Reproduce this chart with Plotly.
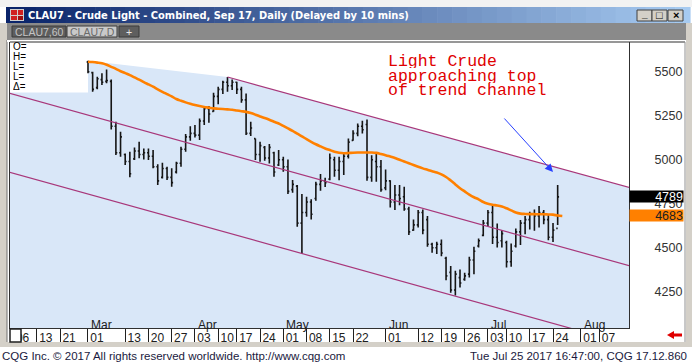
import plotly.graph_objects as go
import pandas as pd

# ---------------- data ----------------
HOLIDAYS = ["2017-02-20", "2017-04-14", "2017-05-29", "2017-07-04"]
SESSION_DATES = [d.strftime("%Y-%m-%d") for d in pd.bdate_range("2017-03-01", "2017-07-26")
                 if d.strftime("%Y-%m-%d") not in HOLIDAYS]
BAR_DATES = SESSION_DATES[:102]

OPEN = [5555, 5495, 5410, 5455, 5445, 5445, 5190, 5040, 5030, 4990,
        5005, 5050, 5030, 5040, 5020, 4960, 4900, 4950, 4900, 4930,
        4980, 5060, 5130, 5150, 5140, 5220, 5290, 5275, 5360, 5400,
        5440, 5420, 5440, 5400, 5340, 5150, 5120, 5030, 5070, 5010,
        5040, 4970, 5000, 4960, 4830, 4850, 4640, 4700, 4760, 4780,
        4860, 4880, 4890, 5000, 4940, 4990, 5020, 5110, 5150, 5190,
        5200, 4900, 4990, 4960, 4840, 4880, 4760, 4800, 4790, 4720,
        4600, 4630, 4700, 4660, 4520, 4500, 4520, 4440, 4360, 4260,
        4330, 4320, 4350, 4430, 4510, 4570, 4640, 4700, 4560, 4540,
        4530, 4420, 4510, 4590, 4640, 4660, 4690, 4680, 4700, 4660,
        4560, 4610]
HIGH = [5563, 5500, 5472, 5491, 5513, 5456, 5216, 5159, 5036, 5045,
        5070, 5102, 5064, 5064, 5055, 4975, 4983, 4960, 4951, 4989,
        5074, 5146, 5191, 5197, 5235, 5301, 5305, 5381, 5415, 5449,
        5470, 5456, 5443, 5415, 5377, 5216, 5121, 5102, 5078, 5089,
        5045, 5055, 5017, 5002, 4885, 4856, 4805, 4790, 4775, 4875,
        4919, 4897, 5036, 5017, 5017, 5036, 5121, 5168, 5206, 5221,
        5229, 5026, 5036, 4998, 4945, 4884, 4856, 4856, 4846, 4733,
        4661, 4714, 4718, 4680, 4528, 4534, 4547, 4449, 4396, 4369,
        4377, 4358, 4449, 4505, 4553, 4657, 4714, 4742, 4638, 4600,
        4540, 4524, 4610, 4657, 4680, 4704, 4718, 4737, 4714, 4685,
        4640, 4856]
LOW = [5491, 5386, 5400, 5424, 5434, 5172, 5027, 5017, 4970, 4900,
       4998, 5008, 5002, 4998, 4951, 4856, 4894, 4885, 4847, 4922,
       4960, 5045, 5108, 5127, 5112, 5197, 5210, 5273, 5316, 5373,
       5386, 5396, 5373, 5324, 5140, 5135, 4998, 4989, 4994, 4979,
       4903, 4964, 4932, 4805, 4813, 4619, 4464, 4676, 4661, 4767,
       4824, 4845, 4884, 4903, 4884, 4913, 5007, 5108, 5134, 5149,
       4880, 4875, 4875, 4818, 4827, 4729, 4714, 4742, 4710, 4572,
       4596, 4615, 4577, 4505, 4471, 4464, 4452, 4316, 4244, 4229,
       4274, 4312, 4331, 4350, 4502, 4566, 4623, 4521, 4502, 4502,
       4388, 4392, 4502, 4515, 4577, 4604, 4596, 4615, 4634, 4543,
       4532, 4629]
CLOSE = [5500, 5400, 5460, 5440, 5450, 5190, 5040, 5130, 4990, 4920,
         5050, 5030, 5040, 5020, 4960, 4880, 4950, 4900, 4870, 4980,
         5060, 5130, 5150, 5140, 5220, 5290, 5260, 5360, 5400, 5440,
         5420, 5440, 5400, 5340, 5150, 5180, 5030, 5080, 5010, 5070,
         4930, 5000, 4960, 4820, 4860, 4640, 4700, 4760, 4690, 4860,
         4880, 4870, 5010, 4940, 4990, 5020, 5100, 5150, 5190, 5170,
         4900, 5000, 4960, 4830, 4880, 4760, 4800, 4780, 4720, 4590,
         4630, 4700, 4600, 4520, 4500, 4520, 4470, 4340, 4260, 4350,
         4300, 4340, 4430, 4480, 4540, 4640, 4700, 4560, 4530, 4580,
         4420, 4480, 4590, 4640, 4660, 4690, 4680, 4700, 4660, 4560,
         4600, 4789]

MA = [5557, 5555, 5552, 5548, 5540, 5528, 5516, 5503, 5492, 5481,
      5468, 5455, 5441, 5428, 5415, 5400, 5386, 5373, 5360, 5345,
      5335, 5326, 5318, 5311, 5305, 5300, 5296, 5292, 5290, 5288,
      5286, 5284, 5280, 5276, 5272, 5265, 5256, 5246, 5237, 5227,
      5216, 5206, 5192, 5178, 5164, 5148, 5133, 5117, 5102, 5088,
      5076, 5064, 5055, 5046, 5040, 5037, 5038, 5040, 5041, 5041,
      5041, 5041, 5039, 5033, 5026, 5018, 5010, 5000, 4990, 4980,
      4970, 4960, 4951, 4943, 4935, 4928, 4917, 4902, 4882, 4860,
      4838, 4820, 4802, 4787, 4775, 4760, 4750, 4744, 4740, 4734,
      4724, 4712, 4700, 4694, 4692, 4691, 4691, 4690, 4690, 4689,
      4688, 4683, 4680]
MA_LAST = 4683
LAST_PRICE = 4789

# trend channel (anchor dates / prices)
TOP_DATES = ["2017-04-12", "2017-08-31"]
TOP_PRICES = [5470, 4729]
MID_DATES = ["2017-02-01", "2017-08-31"]
MID_PRICES = [5393, 4283]
BOT_DATES = ["2017-02-01", "2017-08-31"]
BOT_PRICES = [4945, 3835]

Y_TICKS = [4250, 4500, 4750, 5000, 5250, 5500]
TICK_DATES = ["2017-02-06", "2017-02-13", "2017-02-21", "2017-03-01", "2017-03-13", "2017-03-20",
              "2017-03-27", "2017-04-03", "2017-04-10", "2017-04-17", "2017-04-24", "2017-05-01",
              "2017-05-08", "2017-05-15", "2017-05-22", "2017-06-01", "2017-06-12", "2017-06-19",
              "2017-06-26", "2017-07-03", "2017-07-10", "2017-07-17", "2017-07-24", "2017-08-01",
              "2017-08-07"]
TICK_LABELS = ["06", "13", "21", "01", "13", "20", "27", "03", "10", "17", "24", "01", "08", "15",
               "22", "01", "12", "19", "26", "03", "10", "17", "24", "01", "07"]
MONTH_LABELS = ["Mar", "Apr", "May", "Jun", "Jul", "Aug"]
MONTH_DATES = ["2017-03-01", "2017-04-03", "2017-05-01", "2017-06-01", "2017-07-03", "2017-08-01"]

TITLE = "CLAU7 - Crude Light - Combined, Sep 17, Daily (Delayed by 10 mins)"
TABS = ["CLAU7,60", "CLAU7,D", "+"]
NOTE_LINES = ["Light Crude", "approaching top", "of trend channel"]
OHLC_KEYS = ["O=", "H=", "L=", "L=", "\u0394="]
FOOT_LEFT = "CQG Inc. \u00a9 2017 All rights reserved worldwide. http://www.cqg.com"
FOOT_RIGHT = "Tue Jul 25 2017 16:47:00, CQG 17.12.860"

# ---------------- geometry ----------------
W, H = 692, 363
L, R, T, B = 10, 629, 42, 328
X_RANGE = ["2017-02-03 05:30", "2017-08-15 08:10"]
Y_RANGE = [4044, 5669]


def px(x):
    return (x - L) / (R - L)


def py(y):
    return (B - y) / (B - T)


def price_at(y):
    return Y_RANGE[1] - (y - T) / (B - T) * (Y_RANGE[1] - Y_RANGE[0])


def ms(d):
    return pd.Timestamp(d).value // 10**6


BLUE = "#d9e7f8"
CHAN = "#a8377a"
ORANGE = "#ff8000"
SANS = "Liberation Sans"

fig = go.Figure()

for dx, dy in [(TOP_DATES, TOP_PRICES), (MID_DATES, MID_PRICES), (BOT_DATES, BOT_PRICES)]:
    fig.add_trace(go.Scatter(x=dx, y=dy, mode="lines", line=dict(color=CHAN, width=1.2),
                             hoverinfo="skip", showlegend=False))

fig.add_trace(go.Ohlc(x=BAR_DATES, open=OPEN, high=HIGH, low=LOW, close=CLOSE,
                      increasing=dict(line=dict(color="#151515", width=1.6)),
                      decreasing=dict(line=dict(color="#151515", width=1.6)),
                      tickwidth=0.3, hoverinfo="skip", showlegend=False))

fig.add_trace(go.Scatter(x=SESSION_DATES[:len(MA)], y=MA, mode="lines",
                         line=dict(color=ORANGE, width=2.6, shape="spline"),
                         hoverinfo="skip", showlegend=False))

shapes = []
annotations = []

# white area above the channel's upper boundary (plot background is the light-blue pattern)
legend_bottom = price_at(92.5)
cap = [("2017-02-01", Y_RANGE[1] + 300), ("2017-02-01", legend_bottom), (BAR_DATES[0], legend_bottom),
       (BAR_DATES[0], HIGH[0]), (TOP_DATES[0], TOP_PRICES[0]), (TOP_DATES[1], TOP_PRICES[1]),
       (TOP_DATES[1], Y_RANGE[1] + 300)]
path = "M " + " L ".join("%d,%f" % (ms(d), p) for d, p in cap) + " Z"
shapes.append(dict(type="path", xref="x", yref="y", path=path, fillcolor="#ffffff",
                   line=dict(width=0), layer="below"))


def rect(x0, y0, x1, y1, fill, line=None, lw=0, layer="above"):
    shapes.append(dict(type="rect", xref="paper", yref="paper", x0=px(x0), x1=px(x1), y0=py(y1), y1=py(y0),
                       fillcolor=fill, line=dict(color=line or fill, width=lw), layer=layer))


def hline(x0, x1, y, color, w=1):
    shapes.append(dict(type="line", xref="paper", yref="paper", x0=px(x0), x1=px(x1), y0=py(y), y1=py(y),
                       line=dict(color=color, width=w), layer="above"))


def vline(x, y0, y1, color, w=1):
    shapes.append(dict(type="line", xref="paper", yref="paper", x0=px(x), x1=px(x), y0=py(y0), y1=py(y1),
                       line=dict(color=color, width=w), layer="above"))


def text(x, y, s, size=11, color="#000", family=SANS, xanchor="left", bold=False, **kw):
    annotations.append(dict(xref="paper", yref="paper", x=px(x), y=py(y), text=("<b>%s</b>" % s) if bold else s,
                            showarrow=False, xanchor=xanchor, yanchor="middle",
                            font=dict(size=size, color=color, family=family), borderpad=0, **kw))


# window chrome
rect(0, 0, 692, 7, "#f2f2f2")
N = 46
c0 = (10, 36, 106)
c1 = (166, 202, 240)
for k in range(N):
    f = k / (N - 1)
    col = "rgb(%d,%d,%d)" % tuple(int(c0[j] + (c1[j] - c0[j]) * f) for j in range(3))
    rect(6 + k * 684 / N, 7, 6 + (k + 1) * 684 / N + 0.6, 23, col)
rect(10, 9, 24, 21, "#d0d0d0")
rect(11, 10, 17, 15, "#d02020")
rect(18, 10, 23, 15, "#d02020")
rect(11, 16, 17, 20, "#d02020")
rect(18, 16, 23, 20, "#a01010")
text(27, 15.5, TITLE, size=11, color="#ffffff", bold=True, family="DejaVu Sans Condensed, Liberation Sans")

for bx0, glyph in [(637, "_"), (652, "\u25a1"), (668, "\u00d7")]:
    rect(bx0, 10, bx0 + 15, 21, "#d4d0c8", "#404040", 1)
    text(bx0 + 7.5, 15.5 if glyph != "_" else 13.5, glyph, size=11 if glyph != "_" else 10, color="#000",
         xanchor="center", bold=True)

rect(0, 23, 692, 40, "#8a8a8a")
rect(0, 23, 7, 347, "#d4d0c8")
rect(686, 23, 692, 347, "#d4d0c8")
rect(0, 342, 692, 347, "#d4d0c8")
vline(7, 40, 342, "#707070", 1)
tab_geo = [(12, 66, "#5e5e5e", "#c4c4c4"), (67, 117, "#c9c9c9", "#6a6a6a"), (119, 139, "#5e5e5e", "#e8e8e8")]
for (t0, t1, bg, fg), lab in zip(tab_geo, TABS):
    rect(t0, 26, t1, 37, bg, "#3a3a3a", 1)
    text((t0 + t1) / 2, 31.5, lab, size=10.5, color=fg, xanchor="center")

# chart white frame
rect(7, 40, 686, 42, "#ffffff")
hline(L, 685, 42, "#303030", 1.2)
vline(685, 42, 342, "#909090", 1)

# left OHLC key box labels
for k, lab in enumerate(OHLC_KEYS):
    text(12, 46.5 + 10 * k, lab, size=10, color="#000", height=9)

# bottom-left little box covering the clipped label
rect(10, 329, 21, 342, "#ffffff", "#202020", 1.5)

# red arrow bottom-right
shapes.append(dict(type="path", xref="paper", yref="paper",
                   path="M %f %f L %f %f L %f %f L %f %f L %f %f L %f %f L %f %f Z" % (
                       px(667), py(335), px(674), py(331), px(674), py(333.5), px(682), py(333.5),
                       px(682), py(336.5), px(674), py(336.5), px(674), py(339)),
                   fillcolor="#e00000", line=dict(width=0), layer="above"))

# footer
rect(0, 347, 692, 363, "#ffffff")
text(1, 355.5, FOOT_LEFT, size=11.5, color="#1a1a40")
text(688, 355.5, FOOT_RIGHT, size=11.5, color="#1a1a40", xanchor="right")

# month labels
for m, d in zip(MONTH_LABELS, MONTH_DATES):
    annotations.append(dict(xref="x", yref="paper", x=d, y=py(325), text=m, showarrow=False,
                            xanchor="left", yanchor="middle", xshift=1,
                            font=dict(size=12, color="#202020", family=SANS)))

# price tags
annotations.append(dict(xref="paper", yref="y", x=1, y=LAST_PRICE, text=str(LAST_PRICE), showarrow=False,
                        xanchor="left", yanchor="middle", width=53, height=11, align="right",
                        bgcolor="#000000", borderpad=0, font=dict(size=12.5, color="#ffffff", family=SANS)))
annotations.append(dict(xref="paper", yref="y", x=1, y=MA_LAST, text=str(MA_LAST), showarrow=False,
                        xanchor="left", yanchor="middle", width=53, height=11, align="right",
                        bgcolor=ORANGE, borderpad=0, font=dict(size=12.5, color="#202020", family=SANS)))

# note text and arrow
for k, line in enumerate(NOTE_LINES):
    text(387, 61 + 14.7 * k, line, size=16.5, color="#e00000", family="Liberation Mono", height=14)
annotations.append(dict(xref="paper", yref="paper", x=px(553), y=py(172), ax=-50, ay=-55, text="",
                        showarrow=True, arrowhead=2, arrowsize=1.6, arrowwidth=1, arrowcolor="#2840ff",
                        standoff=0))

fig.update_layout(
    width=W, height=H, margin=dict(l=L, r=W - R, t=T, b=H - B),
    paper_bgcolor="#ffffff", plot_bgcolor=BLUE,
    showlegend=False, shapes=shapes, annotations=annotations,
    xaxis=dict(type="date", range=X_RANGE,
               rangebreaks=[dict(bounds=["sat", "mon"]), dict(values=HOLIDAYS)],
               rangeslider=dict(visible=False),
               showgrid=False, zeroline=False, showline=True, mirror=True, linecolor="#303030", linewidth=1.2,
               ticks="outside", ticklen=14, tickwidth=1, tickcolor="#202020",
               tickmode="array", tickvals=TICK_DATES, ticktext=TICK_LABELS,
               ticklabelshift=9, ticklabelstandoff=-16,
               tickfont=dict(size=12, color="#202020", family=SANS)),
    yaxis=dict(side="right", range=Y_RANGE, showgrid=False, zeroline=False, showline=True, mirror=True,
               linecolor="#303030", linewidth=1.2, ticks="", tickmode="array", tickvals=Y_TICKS,
               ticklabelstandoff=22, tickfont=dict(size=12.5, color="#333333", family=SANS)),
)

fig.write_html("out.html", config={"displayModeBar": False},
               post_script="document.body.style.margin='0';document.body.style.overflow='hidden';")
